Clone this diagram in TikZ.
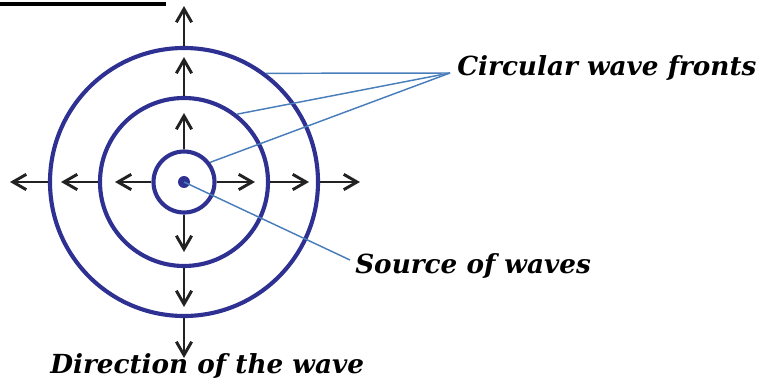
\documentclass[tikz,border=0pt]{standalone}
\usepackage{fontspec}
\setmainfont{DejaVu Serif}
\usetikzlibrary{arrows.meta}
\definecolor{wavecol}{HTML}{2E3192}
\definecolor{leadcol}{HTML}{4A7EBB}
\definecolor{arrcol}{HTML}{222222}
\tikzset{
  front/.style={circle, draw=wavecol, line width=3.1pt, inner sep=0pt},
  dirarrow/.style={draw=arrcol, line width=2.2pt, -{Straight Barb[length=10pt,width=11.5pt,line width=2.2pt]}},
  leader/.style={draw=leadcol, line width=1.1pt},
  lbl/.style={font=\fontsize{19.7}{22}\selectfont\bfseries\itshape, anchor=base west, inner sep=0pt}
}
\begin{document}
\begin{tikzpicture}[x=0.75pt,y=-0.75pt]
\useasboundingbox (0,0) rectangle (765,382);
\coordinate (O) at (184,182);
% top rule
\coordinate (ruleL) at (0,4);
\coordinate (ruleR) at (166,4);
\draw[line width=3.3pt, black] (ruleL) -- (ruleR);
% fronts
\node[front, minimum size=201pt] (c3) at (O) {};
\node[front, minimum size=126pt] (c2) at (O) {};
\node[front, minimum size=45.75pt] (c1) at (O) {};
\node[circle, fill=wavecol, inner sep=0pt, minimum size=9pt] (src) at (O) {};
% arrow ends
\coordinate (u3) at (184,6);  \coordinate (u2) at (184,57);  \coordinate (u1) at (184,113);
\coordinate (d1) at (184,252);\coordinate (d2) at (184,307); \coordinate (d3) at (184,358);
\coordinate (l1) at (115,182);\coordinate (l2) at (61,182);  \coordinate (l3) at (10,182);
\coordinate (r1) at (255,182);\coordinate (r2) at (309,182); \coordinate (r3) at (360,182);
\foreach \n in {1,2,3}{
  \draw[dirarrow] (c\n.north) -- (u\n);
  \draw[dirarrow] (c\n.south) -- (d\n);
  \draw[dirarrow] (c\n.west) -- (l\n);
  \draw[dirarrow] (c\n.east) -- (r\n);
}
% labels
\node[lbl] (fronts) at (457,75) {Circular wave fronts};
\node[lbl] (source) at (355,273) {Source of waves};
\node[lbl] (direction) at (50,373) {Direction of the wave};
\coordinate (meet) at (450,73);
\coordinate (srcend) at (350,260);
\draw[leader] (meet) -- (c3.53.8);
\draw[leader] (meet) -- (c2.52.6);
\draw[leader] (meet) -- (c1.37.6);
\draw[leader] (src.center) -- (srcend);
\end{tikzpicture}
\end{document}
